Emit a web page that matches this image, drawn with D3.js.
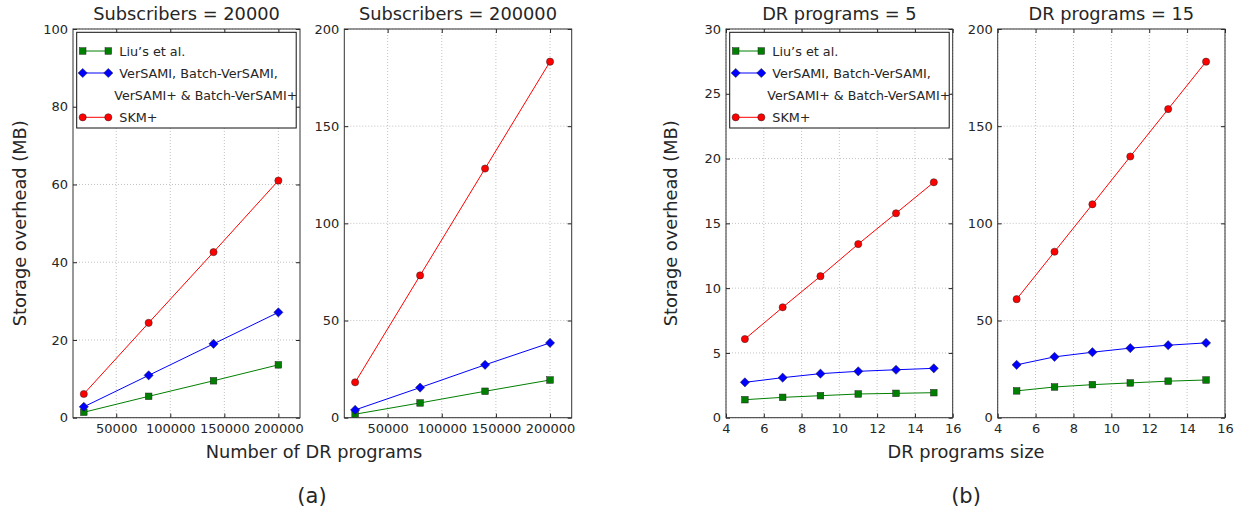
<!DOCTYPE html>
<html>
<head>
<meta charset="utf-8">
<script src="https://cdn.jsdelivr.net/npm/d3@7"></script>
<style>
  html, body { margin: 0; padding: 0; background: #fff; }
  svg { display: block; }
  text { font-family: "DejaVu Sans", sans-serif; fill: #262626; }
</style>
</head>
<body>
<svg id="chart" width="1247" height="516"></svg>
<script>
// ---------- data ----------
const subscriberX = [20000, 80000, 140000, 200000];
const programSizes = [5, 7, 9, 11, 13, 15];

const liuSub20000 = [1.4, 5.5, 9.5, 13.6];
const verSub20000 = [2.8, 10.9, 19.0, 27.1];
const skmSub20000 = [6.1, 24.4, 42.6, 61.0];

const liuSub200000 = [1.8, 7.6, 13.6, 19.4];
const verSub200000 = [4.0, 15.5, 27.2, 38.5];
const skmSub200000 = [18.2, 73.2, 128.2, 183.2];

const liuDR5 = [1.39, 1.57, 1.70, 1.83, 1.88, 1.93];
const verDR5 = [2.73, 3.09, 3.40, 3.58, 3.70, 3.81];
const skmDR5 = [6.07, 8.52, 10.92, 13.40, 15.78, 18.17];

const liuDR15 = [13.8, 15.8, 17.0, 17.9, 18.8, 19.4];
const verDR15 = [27.2, 31.3, 33.7, 35.8, 37.3, 38.5];
const skmDR15 = [61.0, 85.4, 109.8, 134.4, 158.8, 183.2];

const subscriberTicks = [50000, 100000, 150000, 200000];
const sizeTicks = [4, 6, 8, 10, 12, 14, 16];
const yTicks100 = [0, 20, 40, 60, 80, 100];
const yTicks200 = [0, 50, 100, 150, 200];
const yTicks30 = [0, 5, 10, 15, 20, 25, 30];

const seriesNames = ["Liu\u2019s et al.", "VerSAMI, Batch-VerSAMI,", "VerSAMI+ & Batch-VerSAMI+", "SKM+"];
const panelTitles = ["Subscribers = 20000", "Subscribers = 200000", "DR programs = 5", "DR programs = 15"];
const xLabels = ["Number of DR programs", "DR programs size"];
const yLabel = "Storage overhead (MB)";
const captions = ["(a)", "(b)"];

// ---------- layout ----------
const plotTop = 29, plotBottom = 417.7;
const panels = [
  { x0: 73,    x1: 300,    xd: [10000, 220000], xt: subscriberTicks, yd: [0, 100], yt: yTicks100, xs: subscriberX, liu: liuSub20000, ver: verSub20000, skm: skmSub20000, title: panelTitles[0], legend: true },
  { x0: 344.3, x1: 571.7,  xd: [10000, 220000], xt: subscriberTicks, yd: [0, 200], yt: yTicks200, xs: subscriberX, liu: liuSub200000, ver: verSub200000, skm: skmSub200000, title: panelTitles[1], legend: false },
  { x0: 726,   x1: 952.7,  xd: [4, 16], xt: sizeTicks, yd: [0, 30], yt: yTicks30, xs: programSizes, liu: liuDR5, ver: verDR5, skm: skmDR5, title: panelTitles[2], legend: true },
  { x0: 997.7, x1: 1225,   xd: [4, 16], xt: sizeTicks, yd: [0, 200], yt: yTicks200, xs: programSizes, liu: liuDR15, ver: verDR15, skm: skmDR15, title: panelTitles[3], legend: false }
];

const colors = { liu: "#008000", ver: "#0000ff", skm: "#ff0000" };
const svg = d3.select("#chart");

function drawMarker(g, type, x, y) {
  if (type === "liu") {
    g.append("rect").attr("x", x - 3.3).attr("y", y - 3.3).attr("width", 6.6).attr("height", 6.6)
      .attr("fill", colors.liu).attr("stroke", "#222").attr("stroke-width", 0.5);
  } else if (type === "ver") {
    const s = 4.6;
    g.append("path").attr("d", `M${x},${y - s}L${x + s},${y}L${x},${y + s}L${x - s},${y}Z`)
      .attr("fill", colors.ver).attr("stroke", "#222").attr("stroke-width", 0.5);
  } else {
    g.append("circle").attr("cx", x).attr("cy", y).attr("r", 3.6)
      .attr("fill", colors.skm).attr("stroke", "#222").attr("stroke-width", 0.5);
  }
}

panels.forEach((p) => {
  const x = d3.scaleLinear().domain(p.xd).range([p.x0, p.x1]);
  const y = d3.scaleLinear().domain(p.yd).range([plotBottom, plotTop]);
  const g = svg.append("g");
  const w = p.x1 - p.x0, h = plotBottom - plotTop;

  // grid
  g.append("g").selectAll("line").data(p.xt).join("line")
    .attr("x1", d => x(d)).attr("x2", d => x(d)).attr("y1", plotTop).attr("y2", plotBottom)
    .attr("stroke", "#a8a8a8").attr("stroke-width", 0.7).attr("stroke-dasharray", "1,2");
  g.append("g").selectAll("line").data(p.yt).join("line")
    .attr("x1", p.x0).attr("x2", p.x1).attr("y1", d => y(d)).attr("y2", d => y(d))
    .attr("stroke", "#a8a8a8").attr("stroke-width", 0.7).attr("stroke-dasharray", "1,2");

  // series
  const line = d3.line().x(d => x(d[0])).y(d => y(d[1]));
  ["liu", "ver", "skm"].forEach(k => {
    const pts = p.xs.map((v, i) => [v, p[k][i]]);
    g.append("path").attr("d", line(pts)).attr("fill", "none")
      .attr("stroke", colors[k]).attr("stroke-width", 1);
  });
  ["liu", "ver", "skm"].forEach(k => {
    p.xs.forEach((v, i) => drawMarker(g, k, x(v), y(p[k][i])));
  });

  // axes (inward ticks on all sides)
  const fmt = d3.format("d");
  const ax = g.append("g").attr("transform", `translate(0,${plotBottom})`)
    .call(d3.axisBottom(x).tickValues(p.xt).tickFormat(fmt).tickSizeInner(-4).tickSizeOuter(0).tickPadding(6));
  const axTop = g.append("g").attr("transform", `translate(0,${plotTop})`)
    .call(d3.axisTop(x).tickValues(p.xt).tickFormat("").tickSizeInner(-4).tickSizeOuter(0));
  const ay = g.append("g").attr("transform", `translate(${p.x0},0)`)
    .call(d3.axisLeft(y).tickValues(p.yt).tickFormat(fmt).tickSizeInner(-4).tickSizeOuter(0).tickPadding(5));
  const ayR = g.append("g").attr("transform", `translate(${p.x1},0)`)
    .call(d3.axisRight(y).tickValues(p.yt).tickFormat("").tickSizeInner(-4).tickSizeOuter(0));
  [ax, axTop, ay, ayR].forEach(a => {
    a.select(".domain").remove();
    a.selectAll("line").attr("stroke", "#222");
    a.selectAll("text").attr("font-size", "13px").attr("fill", "#262626")
      .attr("font-family", "DejaVu Sans, sans-serif");
  });

  // frame
  g.append("rect").attr("x", p.x0).attr("y", plotTop).attr("width", w).attr("height", h)
    .attr("fill", "none").attr("stroke", "#333").attr("stroke-width", 1);

  // title
  g.append("text").attr("x", (p.x0 + p.x1) / 2).attr("y", 19.5).attr("text-anchor", "middle")
    .attr("font-size", "17.8px").text(p.title);

  // legend
  if (p.legend) {
    const lx = p.x0 + 3.7, ly = plotTop + 3.3;
    const lg = g.append("g");
    lg.append("rect").attr("x", lx).attr("y", ly).attr("width", 219.5).attr("height", 95.7)
      .attr("fill", "#fff").attr("stroke", "#111").attr("stroke-width", 1);
    const rows = [
      { k: "liu", yy: ly + 18.7, label: seriesNames[0] },
      { k: "ver", yy: ly + 40.7, label: seriesNames[1] },
      { k: "skm", yy: ly + 85, label: seriesNames[3] }
    ];
    rows.forEach(r => {
      lg.append("line").attr("x1", lx + 6).attr("x2", lx + 31.6).attr("y1", r.yy).attr("y2", r.yy)
        .attr("stroke", colors[r.k]).attr("stroke-width", 1);
      drawMarker(lg, r.k, lx + 6, r.yy);
      drawMarker(lg, r.k, lx + 31.6, r.yy);
      lg.append("text").attr("x", lx + 42.6).attr("y", r.yy + 4.6).attr("font-size", "12.8px").text(r.label);
    });
    lg.append("text").attr("x", lx + 37.6).attr("y", ly + 63.4 + 4.6).attr("font-size", "12.6px").text(seriesNames[2]);
  }
});

// axis labels
svg.append("text").attr("x", 314).attr("y", 457.7).attr("text-anchor", "middle")
  .attr("font-size", "17.8px").text(xLabels[0]);
svg.append("text").attr("x", 966).attr("y", 457.7).attr("text-anchor", "middle")
  .attr("font-size", "17.8px").text(xLabels[1]);
[25.5, 676.5].forEach(cx => {
  svg.append("text").attr("transform", `translate(${cx},${(plotTop + plotBottom) / 2}) rotate(-90)`)
    .attr("text-anchor", "middle").attr("font-size", "17.8px").text(yLabel);
});

// captions
svg.append("text").attr("x", 312).attr("y", 502.7).attr("text-anchor", "middle")
  .attr("font-family", "Liberation Serif, serif").attr("font-size", "21px").attr("fill", "#111").text(captions[0]);
svg.append("text").attr("x", 966).attr("y", 502.7).attr("text-anchor", "middle")
  .attr("font-family", "Liberation Serif, serif").attr("font-size", "21px").attr("fill", "#111").text(captions[1]);
</script>
</body>
</html>
